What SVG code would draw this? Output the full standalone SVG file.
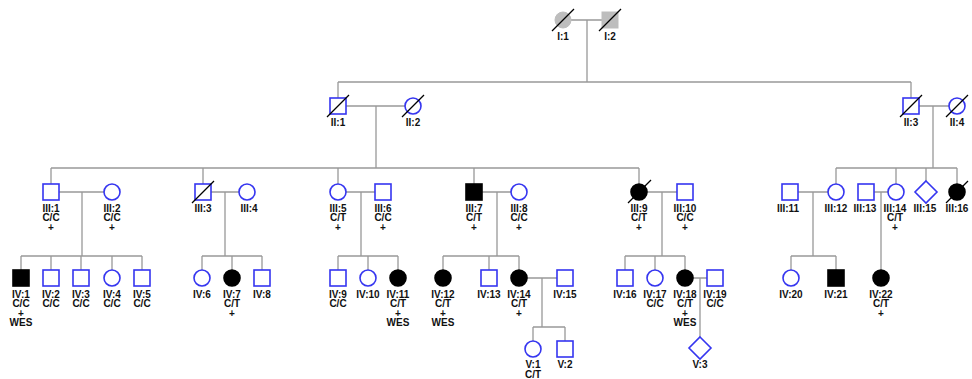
<svg xmlns="http://www.w3.org/2000/svg" width="972" height="379" viewBox="0 0 972 379">
<style>
.bg{fill:#ffffff}
.ln{fill:none;stroke:#999999;stroke-width:1.3}
.s{fill:#ffffff;stroke:#3535f0;stroke-width:1.6}
.a{fill:#000000;stroke:#000000;stroke-width:1.6}
.g{fill:#bdbdbd;stroke:#bdbdbd;stroke-width:1}
.d{stroke:#000000;stroke-width:1.3}
text{font-family:"Liberation Sans",Arial,sans-serif;font-weight:bold;font-size:10px;fill:#111111;text-anchor:middle}
</style>
<rect class="bg" x="0" y="0" width="972" height="379"/>
<g id="connectors">
<path class="ln" d="M571 20H602M587 20V82M338 82H911M338 82V98M911 82V98"/>
<path class="ln" d="M346 106H405M376 106V168M919 106H949M933 106V168"/>
<path class="ln" d="M51 168H639M51 168V184M203 168V184M338 168V184M474 168V184M639 168V184"/>
<path class="ln" d="M836 168H957M836 168V184M896 168V184M926 168V181M957 168V184"/>
<path class="ln" d="M59 192H104M82 192V256M21 256H142M21 256V270M51 256V270M81 256V270M112 256V270M142 256V270"/>
<path class="ln" d="M211 192H239M225 192V256M202 256H262M202 256V270M232 256V270M262 256V270"/>
<path class="ln" d="M346 192H375M361 192V256M338 256H398M338 256V270M368 256V270M398 256V270"/>
<path class="ln" d="M482 192H511M497 192V256M443 256H519M443 256V270M489 256V270M519 256V270"/>
<path class="ln" d="M647 192H677M662 192V256M625 256H685M625 256V270M655 256V270M685 256V270"/>
<path class="ln" d="M798 192H828M813 192V256M791 256H836M791 256V270M836 256V270"/>
<path class="ln" d="M874 192H888M881 192V270"/>
<path class="ln" d="M527 278H557M542 278V327M533 327H565M533 327V341M565 327V341"/>
<path class="ln" d="M693 278H707M700 278V337"/>
</g>
<!-- Generation I -->
<g id="I1"><circle class="g" cx="563" cy="20" r="8"/><line class="d" x1="552" y1="31" x2="574" y2="9"/><text x="563" y="40">I:1</text></g>
<g id="I2"><rect class="g" x="602" y="12" width="16" height="16"/><line class="d" x1="599" y1="31" x2="621" y2="9"/><text x="610" y="40">I:2</text></g>
<!-- Generation II -->
<g id="II1"><rect class="s" x="330" y="98" width="16" height="16"/><line class="d" x1="327" y1="117" x2="349" y2="95"/><text x="338" y="126">II:1</text></g>
<g id="II2"><circle class="s" cx="413" cy="106" r="8"/><line class="d" x1="402" y1="117" x2="424" y2="95"/><text x="413" y="126">II:2</text></g>
<g id="II3"><rect class="s" x="903" y="98" width="16" height="16"/><line class="d" x1="900" y1="117" x2="922" y2="95"/><text x="911" y="126">II:3</text></g>
<g id="II4"><circle class="s" cx="957" cy="106" r="8"/><line class="d" x1="946" y1="117" x2="968" y2="95"/><text x="957" y="126">II:4</text></g>
<!-- Generation III -->
<g id="III1"><rect class="s" x="43" y="184" width="16" height="16"/><text x="51" y="211.5">III:1</text><text x="51" y="221">C/C</text><text x="51" y="230.5">+</text></g>
<g id="III2"><circle class="s" cx="112" cy="192" r="8"/><text x="112" y="211.5">III:2</text><text x="112" y="221">C/C</text><text x="112" y="230.5">+</text></g>
<g id="III3"><rect class="s" x="195" y="184" width="16" height="16"/><line class="d" x1="192" y1="203" x2="214" y2="181"/><text x="203" y="211.5">III:3</text></g>
<g id="III4"><circle class="s" cx="247" cy="192" r="8"/><text x="249" y="211.5">III:4</text></g>
<g id="III5"><circle class="s" cx="338" cy="192" r="8"/><text x="338" y="211.5">III:5</text><text x="338" y="221">C/T</text><text x="338" y="230.5">+</text></g>
<g id="III6"><rect class="s" x="375" y="184" width="16" height="16"/><text x="383" y="211.5">III:6</text><text x="383" y="221">C/C</text><text x="383" y="230.5">+</text></g>
<g id="III7"><rect class="a" x="466" y="184" width="16" height="16"/><text x="474" y="211.5">III:7</text><text x="474" y="221">C/T</text><text x="474" y="230.5">+</text></g>
<g id="III8"><circle class="s" cx="519" cy="192" r="8"/><text x="519" y="211.5">III:8</text><text x="519" y="221">C/C</text><text x="519" y="230.5">+</text></g>
<g id="III9"><circle class="a" cx="639" cy="192" r="8"/><line class="d" x1="628" y1="203" x2="651" y2="180"/><text x="639" y="211.5">III:9</text><text x="639" y="221">C/T</text><text x="639" y="230.5">+</text></g>
<g id="III10"><rect class="s" x="677" y="184" width="16" height="16"/><text x="685" y="211.5">III:10</text><text x="685" y="221">C/C</text><text x="685" y="230.5">+</text></g>
<g id="III11"><rect class="s" x="782" y="184" width="16" height="16"/><text x="788" y="211.5">III:11</text></g>
<g id="III12"><circle class="s" cx="836" cy="192" r="8"/><text x="836" y="211.5">III:12</text></g>
<g id="III13"><rect class="s" x="858" y="184" width="16" height="16"/><text x="865" y="211.5">III:13</text></g>
<g id="III14"><circle class="s" cx="896" cy="192" r="8"/><text x="895" y="211.5">III:14</text><text x="895" y="221">C/T</text><text x="895" y="230.5">+</text></g>
<g id="III15"><polygon class="s" points="926,181 937,192 926,203 915,192"/><text x="925" y="211.5">III:15</text></g>
<g id="III16"><circle class="a" cx="957" cy="192" r="8"/><line class="d" x1="946" y1="203" x2="968" y2="181"/><text x="957" y="211.5">III:16</text></g>
<!-- Generation IV -->
<g id="IV1"><rect class="a" x="13" y="270" width="16" height="16"/><text x="21" y="297.5">IV:1</text><text x="21" y="307">C/C</text><text x="21" y="316.5">+</text><text x="21" y="326">WES</text></g>
<g id="IV2"><rect class="s" x="43" y="270" width="16" height="16"/><text x="51" y="297.5">IV:2</text><text x="51" y="307">C/C</text></g>
<g id="IV3"><rect class="s" x="73" y="270" width="16" height="16"/><text x="81" y="297.5">IV:3</text><text x="81" y="307">C/C</text></g>
<g id="IV4"><circle class="s" cx="112" cy="278" r="8"/><text x="112" y="297.5">IV:4</text><text x="112" y="307">C/C</text></g>
<g id="IV5"><rect class="s" x="134" y="270" width="16" height="16"/><text x="142" y="297.5">IV:5</text><text x="142" y="307">C/C</text></g>
<g id="IV6"><circle class="s" cx="202" cy="278" r="8"/><text x="202" y="297.5">IV:6</text></g>
<g id="IV7"><circle class="a" cx="232" cy="278" r="8"/><text x="232" y="297.5">IV:7</text><text x="232" y="307">C/T</text><text x="232" y="316.5">+</text></g>
<g id="IV8"><rect class="s" x="254" y="270" width="16" height="16"/><text x="262" y="297.5">IV:8</text></g>
<g id="IV9"><rect class="s" x="330" y="270" width="16" height="16"/><text x="338" y="297.5">IV:9</text><text x="338" y="307">C/C</text></g>
<g id="IV10"><circle class="s" cx="368" cy="278" r="8"/><text x="368" y="297.5">IV:10</text></g>
<g id="IV11"><circle class="a" cx="398" cy="278" r="8"/><text x="398" y="297.5">IV:11</text><text x="398" y="307">C/T</text><text x="398" y="316.5">+</text><text x="398" y="326">WES</text></g>
<g id="IV12"><circle class="a" cx="443" cy="278" r="8"/><text x="443" y="297.5">IV:12</text><text x="443" y="307">C/T</text><text x="443" y="316.5">+</text><text x="443" y="326">WES</text></g>
<g id="IV13"><rect class="s" x="481" y="270" width="16" height="16"/><text x="489" y="297.5">IV:13</text></g>
<g id="IV14"><circle class="a" cx="519" cy="278" r="8"/><text x="519" y="297.5">IV:14</text><text x="519" y="307">C/T</text><text x="519" y="316.5">+</text></g>
<g id="IV15"><rect class="s" x="557" y="270" width="16" height="16"/><text x="565" y="297.5">IV:15</text></g>
<g id="IV16"><rect class="s" x="617" y="270" width="16" height="16"/><text x="625" y="297.5">IV:16</text></g>
<g id="IV17"><circle class="s" cx="655" cy="278" r="8"/><text x="655" y="297.5">IV:17</text><text x="655" y="307">C/C</text></g>
<g id="IV18"><circle class="a" cx="685" cy="278" r="8"/><text x="685" y="297.5">IV:18</text><text x="685" y="307">C/T</text><text x="685" y="316.5">+</text><text x="685" y="326">WES</text></g>
<g id="IV19"><rect class="s" x="707" y="270" width="16" height="16"/><text x="715" y="297.5">IV:19</text><text x="715" y="307">C/C</text></g>
<g id="IV20"><circle class="s" cx="791" cy="278" r="8"/><text x="791" y="297.5">IV:20</text></g>
<g id="IV21"><rect class="a" x="828" y="270" width="16" height="16"/><text x="836" y="297.5">IV:21</text></g>
<g id="IV22"><circle class="a" cx="881" cy="278" r="8"/><text x="881" y="297.5">IV:22</text><text x="881" y="307">C/T</text><text x="881" y="316.5">+</text></g>
<!-- Generation V -->
<g id="V1"><circle class="s" cx="533" cy="349" r="8"/><text x="533" y="367.5">V:1</text><text x="533" y="377.5">C/T</text></g>
<g id="V2"><rect class="s" x="557" y="341" width="16" height="16"/><text x="565" y="367.5">V:2</text></g>
<g id="V3"><polygon class="s" points="700,337 711,348 700,359 689,348"/><text x="700" y="367.5">V:3</text></g>
</svg>
